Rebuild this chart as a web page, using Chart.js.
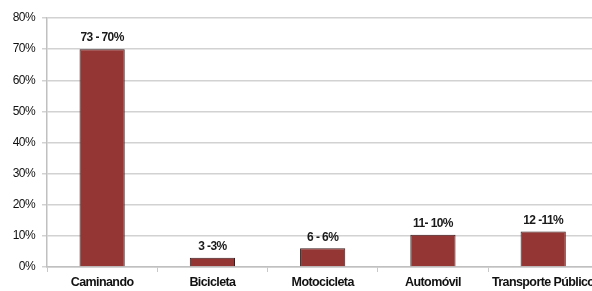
<!DOCTYPE html>
<html>
<head>
<meta charset="utf-8">
<script src="https://cdn.jsdelivr.net/npm/chart.js@4/dist/chart.umd.min.js"></script>
<style>
  html, body { margin: 0; padding: 0; background: #fff; overflow: hidden; }
  #wrap { width: 603px; height: 291px; }
</style>
</head>
<body>
<div id="wrap"><canvas id="chart"></canvas></div>
<script>
const categories = ['Caminando', 'Bicicleta', 'Motocicleta', 'Automóvil', 'Transporte Público'];
const shares = [70, 3, 6, 10.4, 11.4];
const barLabels = ['73 - 70%', '3 -3%', '6 - 6%', '11- 10%', '12 -11%'];

const FONT = '"Liberation Sans", Arial, sans-serif';

// squeeze letters a bit, the original uses a narrow font
const narrowText = {
  id: 'narrowText',
  beforeDraw(chart) {
    chart.ctx.letterSpacing = '-0.6px';
  }
};

// text above each bar
const topLabels = {
  id: 'topLabels',
  afterDatasetsDraw(chart) {
    const ctx = chart.ctx;
    const meta = chart.getDatasetMeta(0);
    ctx.save();
    ctx.font = 'bold 12px ' + FONT;
    ctx.fillStyle = '#1a1a1a';
    ctx.textAlign = 'center';
    ctx.textBaseline = 'bottom';
    meta.data.forEach((bar, i) => {
      ctx.fillText(barLabels[i], bar.x, bar.y - 5);
    });
    ctx.restore();
  }
};

const ctx = document.getElementById('chart').getContext('2d');
const mychart = new Chart(ctx, {
  type: 'bar',
  data: {
    labels: categories,
    datasets: [{
      data: shares,
      backgroundColor: '#943634',
      borderColor: '#3b1c1c',
      borderWidth: 1,
      categoryPercentage: 1,
      barPercentage: 0.41
    }]
  },
  options: {
    responsive: true,
    maintainAspectRatio: false,
    animation: false,
    layout: { padding: { top: 18, right: 2 } },
    plugins: {
      legend: { display: false },
      tooltip: { enabled: false }
    },
    scales: {
      x: {
        grid: { drawOnChartArea: false, color: '#c8c8c8', tickLength: 5 },
        border: { color: '#c0c0c0', width: 1.5 },
        ticks: {
          color: '#111',
          font: { family: FONT, size: 12.5, weight: 'bold' },
          padding: 3,
          maxRotation: 0,
          autoSkip: false
        },
        afterFit(scale) { scale.height = 24; }
      },
      y: {
        min: 0,
        max: 80,
        ticks: {
          stepSize: 10,
          color: '#111',
          font: { family: FONT, size: 12 },
          padding: 7,
          callback: v => v + '%'
        },
        grid: { color: '#d2d2d2', lineWidth: 1.5, tickLength: 5 },
        border: { color: '#c0c0c0', width: 1.5 },
        afterFit(scale) { scale.width = 47; }
      }
    }
  },
  plugins: [narrowText, topLabels]
});
</script>
</body>
</html>
